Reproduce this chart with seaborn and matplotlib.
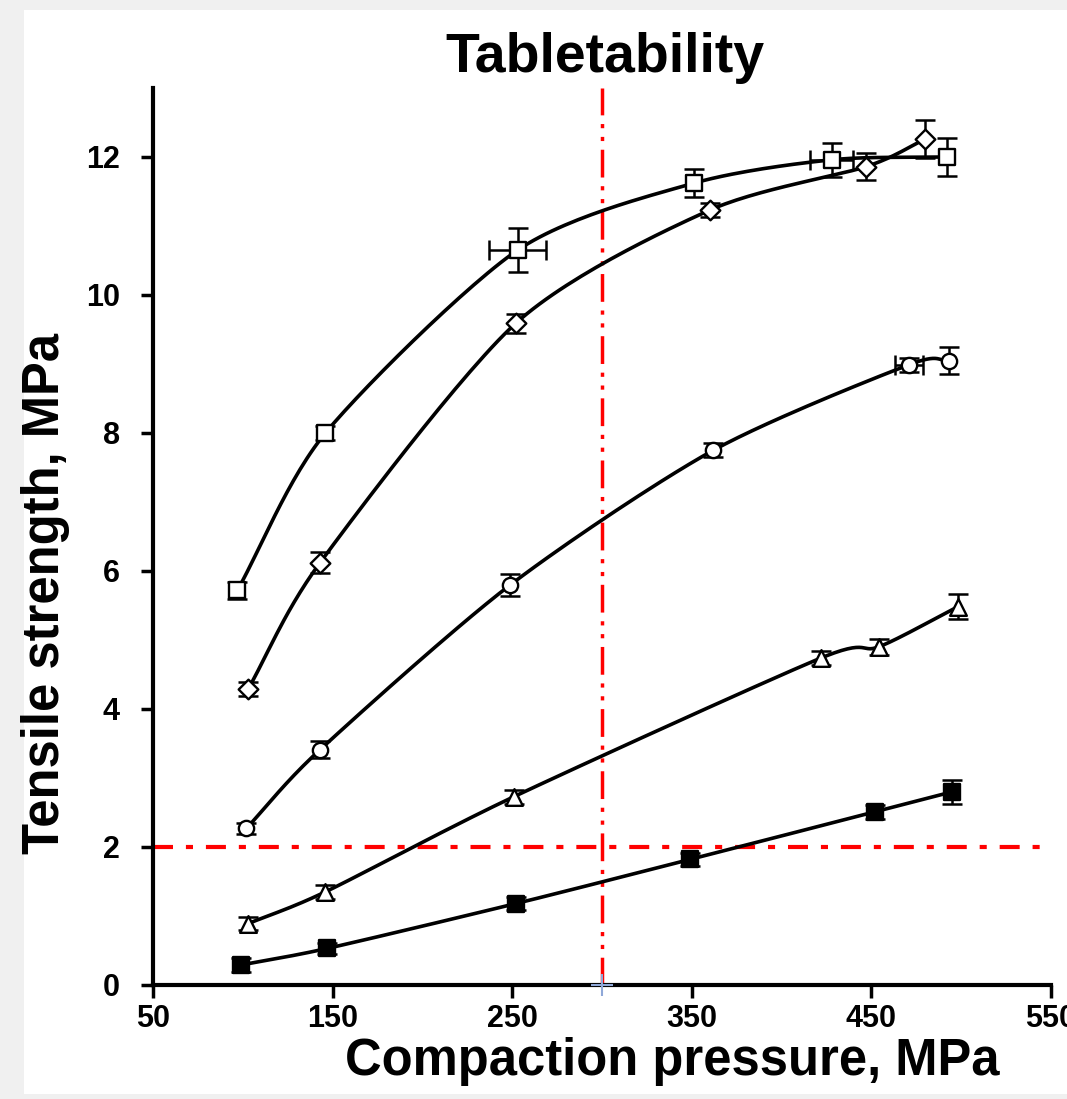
import numpy as np
import pandas as pd
import matplotlib
matplotlib.use("Agg")
import matplotlib.pyplot as plt
from matplotlib.patches import Rectangle
import seaborn as sns

# --- data ---
a_x = [97, 146, 253, 351, 428, 492]
a_y = [5.72, 8.00, 10.65, 11.62, 11.96, 12.00]
a_yerr = [0.12, 0.10, 0.32, 0.20, 0.25, 0.27]
a_xerr = [0, 0, 16, 0, 12, 0]

b_x = [103, 143, 252, 360, 447, 480]
b_y = [4.29, 6.12, 9.59, 11.23, 11.86, 12.26]
b_yerr = [0.10, 0.15, 0.14, 0.10, 0.20, 0.28]
b_xerr = [0, 0, 0, 0, 0, 0]

c_x = [102, 143, 249, 362, 471, 493]
c_y = [2.27, 3.41, 5.80, 7.75, 8.99, 9.05]
c_yerr = [0.08, 0.12, 0.16, 0.10, 0.10, 0.20]
c_xerr = [0, 0, 0, 0, 8, 0]

d_x = [103, 146, 251, 422, 454, 498]
d_y = [0.89, 1.35, 2.73, 4.74, 4.90, 5.48]
d_yerr = [0.10, 0.10, 0.10, 0.10, 0.12, 0.18]
d_xerr = [0, 0, 0, 0, 0, 0]

e_x = [99, 147, 252, 349, 452, 495]
e_y = [0.29, 0.53, 1.18, 1.82, 2.51, 2.80]
e_yerr = [0.10, 0.08, 0.10, 0.10, 0.10, 0.17]
e_xerr = [0, 0, 0, 0, 0, 0]

x_ticks = [50, 150, 250, 350, 450, 550]
y_ticks = [0, 2, 4, 6, 8, 10, 12]
limit_pressure = 300
limit_strength = 2


def smooth(xs, ys, n=30, k=0.8):
    # cubic Hermite curve through the points with damped tangents,
    # close to Excel's smoothed lines
    p = np.column_stack([xs, ys]).astype(float)
    m = np.zeros_like(p)
    m[1:-1] = k * (p[2:] - p[:-2]) / 2
    m[0] = k * (p[1] - p[0])
    m[-1] = k * (p[-1] - p[-2])
    t = np.linspace(0, 1, n)[:, None]
    h00 = 2 * t ** 3 - 3 * t ** 2 + 1
    h10 = t ** 3 - 2 * t ** 2 + t
    h01 = -2 * t ** 3 + 3 * t ** 2
    h11 = t ** 3 - t ** 2
    out = [h00 * p[i] + h10 * m[i] + h01 * p[i + 1] + h11 * m[i + 1]
           for i in range(len(p) - 1)]
    out = np.vstack(out)
    return out[:, 0], out[:, 1]


sns.set_style("ticks")
plt.rcParams['font.family'] = ['Liberation Sans Narrow', 'Liberation Sans', 'DejaVu Sans']
plt.rcParams['text.color'] = "black"

fig = plt.figure(figsize=(10.67, 10.99), dpi=100, facecolor="#f0f0f0")
fig.patches.append(Rectangle((24 / 1067, 5 / 1099), 1.0, 1084 / 1099,
                             transform=fig.transFigure, facecolor="white",
                             edgecolor="none", zorder=-5))
ax = fig.add_axes([153 / 1067, 1 - 985 / 1099, (1051 - 153) / 1067, (985 - 88) / 1099])
ax.set_facecolor("white")
ax.set_zorder(2)

series = [
    (a_x, a_y, a_xerr, a_yerr, "s", "white", 12),
    (b_x, b_y, b_xerr, b_yerr, "D", "white", 10),
    (c_x, c_y, c_xerr, c_yerr, "o", "white", 11),
    (d_x, d_y, d_xerr, d_yerr, "^", "white", 12),
    (e_x, e_y, e_xerr, e_yerr, "s", "black", 12),
]

for xs, ys, xe, ye, mk, fc, ms in series:
    sx, sy = smooth(xs, ys)
    sns.lineplot(x=sx, y=sy, ax=ax, color="black", linewidth=2.6, sort=False,
                 estimator=None, zorder=2)
    xe_arr = np.where(np.array(xe) > 0, np.array(xe, dtype=float), np.nan)
    ax.errorbar(xs, ys, yerr=ye, xerr=xe_arr if any(xe) else None,
                fmt="none", ecolor="black", elinewidth=1.8, capsize=7, capthick=1.8, zorder=3)
    df = pd.DataFrame({"x": xs, "y": ys})
    sns.scatterplot(data=df, x="x", y="y", ax=ax, marker=mk, s=ms ** 2,
                    color=fc, edgecolor="black", linewidth=1.7, zorder=4)

ax.axhline(limit_strength, color="red", linewidth=3, linestyle=(0, (4.8, 3.1, 1.7, 3.1)), zorder=1)
ax.axvline(limit_pressure, color="red", linewidth=2.5,
           linestyle=(0, (8, 2.5, 1.2, 2.5, 1.2, 2.5)), zorder=1)
ax.plot([limit_pressure], [0], marker="+", markersize=16, color="#8fa8d8",
        markeredgewidth=1.5, clip_on=False, zorder=5)

ax.set_xlim(50, 550)
ax.set_ylim(0, 13)
ax.set_xticks(x_ticks)
ax.set_yticks(y_ticks)
ax.set_xlabel("")
ax.set_ylabel("")
sns.despine(ax=ax)
for side in ["left", "bottom"]:
    ax.spines[side].set_linewidth(3)
    ax.spines[side].set_color("black")
ax.tick_params(axis="both", direction="out", length=9, width=2.5, colors="black",
               labelsize=22)
ax.tick_params(axis="x", pad=5)
ax.tick_params(axis="y", pad=15)
for lbl in ax.get_xticklabels() + ax.get_yticklabels():
    lbl.set_fontweight("bold")

fig.text(605 / 1067, 1 - 58 / 1099, "Tabletability", ha="center", va="center",
         fontsize=40, fontweight="bold", color="black")
fig.text(672 / 1067, 1 - 1062 / 1099, "Compaction pressure, MPa", ha="center",
         va="center", fontsize=36.5, fontweight="bold", color="black")
fig.text(46 / 1067, 1 - 593 / 1099, "Tensile strength, MPa", ha="center",
         va="center", rotation=90, fontsize=36.5, fontweight="bold", color="black")

fig.savefig("out.png", dpi=100, facecolor=fig.get_facecolor())
